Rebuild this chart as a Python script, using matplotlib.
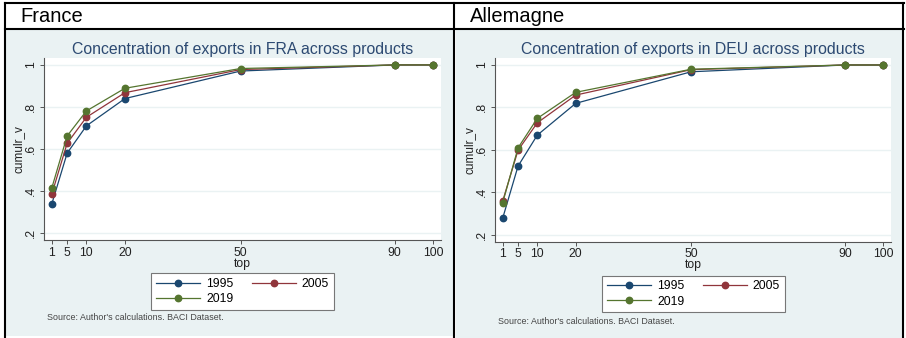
import numpy as np
import matplotlib.pyplot as plt
from matplotlib.lines import Line2D
from matplotlib.patches import Rectangle

plt.rcParams['font.family'] = ['Liberation Sans', 'DejaVu Sans']

top = [1, 5, 10, 20, 50, 90, 100]
years = ['1995', '2005', '2019']

fra_1995 = [0.337, 0.580, 0.710, 0.840, 0.971, 1.0, 1.0]
fra_2005 = [0.384, 0.627, 0.751, 0.868, 0.978, 1.0, 1.0]
fra_2019 = [0.413, 0.662, 0.781, 0.889, 0.983, 1.0, 1.0]

deu_1995 = [0.277, 0.523, 0.669, 0.819, 0.968, 1.0, 1.0]
deu_2005 = [0.358, 0.598, 0.727, 0.858, 0.978, 1.0, 1.0]
deu_2019 = [0.350, 0.609, 0.748, 0.871, 0.980, 1.0, 1.0]

colors = ['#1A476F', '#90353B', '#55752F']
bg = '#EAF2F3'

W, H = 906, 338
fig = plt.figure(figsize=(W / 100, H / 100), dpi=100)


def box(x0, y0, x1, y1):
    # pixel box (top-left origin) -> figure fraction [l, b, w, h]
    return [x0 / W, 1 - y1 / H, (x1 - x0) / W, (y1 - y0) / H]


def fx(x):
    return x / W


def fy(y):
    return 1 - y / H


def panel(cx0, cx1, cy1, ax_box, leg_xy, src_y, code, series):
    l, b, w, h = box(cx0, 30, cx1, cy1)
    fig.patches.append(Rectangle((l, b), w, h, transform=fig.transFigure,
                                 facecolor=bg, edgecolor='none', zorder=-10))
    ax = fig.add_axes(box(*ax_box))
    ax.set_facecolor('white')
    for s, c, lab in zip(series, colors, years):
        ax.plot(top, s, color=c, lw=0.9, marker='o', ms=4.6, label=lab)
    ax.set_xlim(-1, 102)
    ax.set_ylim(0.167, 1.033)
    ax.set_xticks(top)
    ax.set_xticklabels([str(t) for t in top], fontsize=8.8)
    ax.set_yticks([0.2, 0.4, 0.6, 0.8, 1.0])
    ax.set_yticklabels(['.2', '.4', '.6', '.8', '1'], fontsize=8.8,
                       rotation=90, va='center')
    ax.grid(axis='y', color=bg, lw=1)
    ax.set_axisbelow(True)
    for sp in ['top', 'right']:
        ax.spines[sp].set_visible(False)
    for sp in ['left', 'bottom']:
        ax.spines[sp].set_color('#555555')
        ax.spines[sp].set_linewidth(0.8)
    ax.tick_params(length=3, width=0.7, color='#555555', labelcolor='#222222', pad=2)
    ax.set_xlabel('top', fontsize=8.8, color='#222222', labelpad=-1)
    ax.set_ylabel('cumulr_v', fontsize=8.5, color='#222222', labelpad=0)
    ax.set_title('Concentration of exports in %s across products' % code,
                 fontsize=11.4, color='#2D4A72', pad=3)
    handles = [Line2D([], [], color=c, lw=0.9, marker='o', ms=4.6) for c in colors]
    order = [0, 2, 1]
    leg = fig.legend([handles[i] for i in order], [years[i] for i in order],
                     loc='center', ncol=2, fontsize=8.8,
                     bbox_to_anchor=(fx(leg_xy[0]), fy(leg_xy[1])),
                     bbox_transform=fig.transFigure,
                     frameon=True, fancybox=False, framealpha=1, handlelength=3.6,
                     borderpad=0.4, labelspacing=0.25, columnspacing=1.5,
                     handletextpad=0.5, borderaxespad=0)
    leg.get_frame().set_edgecolor('#777777')
    leg.get_frame().set_facecolor('white')
    leg.get_frame().set_linewidth(0.8)
    fig.text(fx(ax_box[0] + 3), fy(src_y), "Source: Author's calculations. BACI Dataset.",
             fontsize=6.4, color='#444444', va='center')
    return ax


panel(6, 453, 336, (44, 58, 441, 240), (242.5, 291.5), 318, 'FRA',
      [fra_1995, fra_2005, fra_2019])
panel(456, 902, 338, (495, 58, 891, 241.5), (693.5, 294), 321, 'DEU',
      [deu_1995, deu_2005, deu_2019])

# table borders and header cells
lw = 1.5
for (x0, y0, x1, y1) in [(5, 3, 904, 3), (5, 28.5, 904, 28.5), (5, 3, 5, 337),
                         (454.5, 3, 454.5, 338), (903, 3, 903, 338)]:
    fig.add_artist(Line2D([fx(x0), fx(x1)], [fy(y0), fy(y1)], color='black', lw=lw))

fig.text(fx(20), fy(16.5), 'France', fontsize=14.5, va='center', ha='left')
fig.text(fx(469.5), fy(16.5), 'Allemagne', fontsize=14.5, va='center', ha='left')

fig.savefig('out.png', dpi=100)
